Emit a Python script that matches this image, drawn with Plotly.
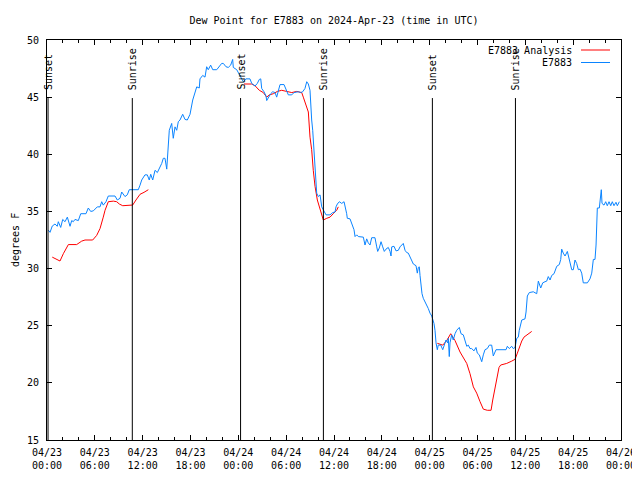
import pandas as pd
import plotly.graph_objects as go

BASE = pd.Timestamp("2024-04-23 00:00")

# ---- E7883 observations (hours since 2024-04-23 00:00 UTC, deg F) ----
obs_hours = [
    0.16, 0.38, 0.66, 1.00, 1.29, 1.42, 1.72, 1.97, 2.26, 2.55, 2.89, 3.10, 3.30, 3.51, 3.93,
    4.23, 4.89, 5.18, 5.48, 5.81, 6.31, 6.65, 6.86, 7.06, 7.40, 7.69, 8.53, 8.82, 9.16, 9.37,
    9.78, 10.07, 10.32, 11.45, 11.67, 11.88, 12.29, 12.58, 12.83, 13.01, 13.26, 13.55, 13.84,
    14.09, 14.39, 14.59, 14.80, 15.02, 15.22, 15.34, 15.64, 15.84, 16.06, 16.27, 16.47, 16.68,
    17.02, 17.31, 17.60, 17.94, 18.28, 18.56, 18.78, 19.10, 19.19, 19.53, 19.82, 20.03, 20.23,
    20.53, 20.79, 21.29, 21.58, 21.91, 22.12, 22.45, 22.74, 23.04, 23.29, 23.37, 23.80,
    24.62, 24.96, 25.46, 25.68, 26.09, 26.38, 26.63, 26.81, 26.93, 27.22, 27.47, 27.56, 27.76,
    28.06, 28.31, 28.60, 28.81, 29.01, 29.23, 29.73, 29.98, 30.27, 30.70, 30.98, 31.52, 31.82,
    32.07, 32.36, 32.58, 32.78, 32.99, 33.08, 33.20, 33.33, 33.49, 33.62, 33.74, 33.83, 34.03,
    34.25, 34.46, 34.66, 35.00, 35.50,
    35.84, 36.13, 36.25, 36.42, 36.67, 36.97, 37.26, 37.59, 37.67, 38.01, 38.22, 38.42, 38.51,
    38.64, 38.85, 39.05, 39.68, 39.89, 40.10, 40.30, 40.52, 40.73, 41.14, 41.36, 41.48, 41.68,
    41.90, 42.11, 42.31, 42.52, 42.81, 43.03, 43.15, 43.24, 43.53, 43.78, 44.07, 44.28, 44.69,
    44.91, 45.12, 45.32, 45.53, 45.75, 45.95, 46.29, 46.45, 46.58, 46.70, 46.79, 46.88, 47.04,
    47.20, 47.42, 47.63, 47.83, 48.04, 48.26,
    48.54, 48.67, 48.80, 48.96, 49.08, 49.39, 49.64, 49.80, 50.05, 50.26, 50.34, 50.46, 50.55,
    50.76, 50.96, 51.18, 51.39, 51.72, 51.93, 52.22, 52.43, 52.65, 52.85, 53.06, 53.27, 53.56,
    53.81, 53.98, 54.23, 54.53, 54.73, 54.94, 55.23, 55.48, 55.78, 55.98, 56.32, 57.58, 57.74,
    57.99, 58.29, 58.49, 58.71, 58.92, 59.12, 59.24, 59.55, 59.96, 60.09, 60.25, 60.50, 61.00,
    61.43, 61.63, 61.93, 62.18, 62.47, 62.68, 62.88, 63.10, 63.31, 63.60, 63.94, 64.26, 64.44,
    64.56, 64.76, 64.98, 65.27, 65.52, 65.82, 66.02, 66.23, 66.44, 66.65, 66.86, 67.07, 67.27,
    67.78, 68.11, 68.33, 68.53, 68.74, 68.87, 68.95, 69.03, 69.28, 69.37, 69.53, 69.62, 69.87,
    70.08, 70.28, 70.50, 70.71, 70.91, 71.12, 71.37, 71.54, 71.79,
]
obs_values = [
    33.37, 33.17, 33.72, 33.9, 33.7, 34.1, 33.6, 34.3, 34.1, 34.5, 33.7, 34.2, 34.1, 34.3, 34.2,
    34.8, 34.8, 35.3, 35.0, 35.05, 35.4, 35.4, 35.85, 35.55, 35.85, 36.35, 36.35, 36.0, 36.15, 36.7,
    36.3, 36.45, 36.9, 36.9, 37.3, 37.75, 38.2, 38.2, 37.75, 38.25, 37.75, 38.6, 38.4,
    38.75, 39.2, 39.65, 39.65, 38.7, 40.66, 42.1, 42.7, 41.4, 42.4, 42.1, 42.85, 43.0,
    43.5, 43.05, 43.0, 43.5, 44.75, 45.3, 45.9, 45.8, 46.6, 46.9, 46.75, 47.66, 47.4,
    47.8, 47.4, 47.4, 47.7, 47.95, 47.95, 47.66, 47.6, 47.8, 48.3, 47.6, 47.4,
    46.35, 46.6, 46.6, 46.2, 45.97, 46.2, 46.55, 46.6, 45.76, 45.47, 45.1, 44.7, 45.0,
    45.3, 45.47, 45.4, 45.0, 45.47, 46.1, 46.1, 45.6, 45.2, 45.2, 45.4, 45.47, 45.4,
    45.47, 45.76, 46.35, 46.15, 45.6, 44.2, 43.0, 42.1, 40.4, 39.2, 38.0, 36.6, 36.3,
    36.45, 35.4, 35.1, 34.7, 34.7,
    34.9, 34.95, 35.4, 35.65, 35.85, 35.7, 35.85, 34.8, 34.4, 34.35, 33.95, 33.7, 33.4,
    32.8, 32.95, 32.8, 32.75, 32.06, 32.6, 32.25, 32.06, 32.7, 32.7, 31.9, 31.5, 31.8,
    32.35, 31.9, 31.5, 31.7, 31.85, 31.5, 31.1, 31.9, 31.95, 31.55, 31.6, 31.9, 32.2,
    31.6, 31.4, 31.35, 31.05, 30.75, 30.4, 30.25, 29.6, 30.1, 30.15, 29.4, 28.6, 27.8,
    27.4, 27.1, 26.7, 26.5, 26.1, 25.85,
    25.2, 24.6, 23.5, 22.9, 23.3, 23.3, 22.9, 23.3, 23.75, 23.5, 23.9, 22.3, 23.5,
    24.2, 23.75, 24.3, 24.6, 24.85, 24.3, 24.2, 23.75, 23.2, 23.3, 23.0, 23.0, 22.8,
    23.1, 22.6, 22.45, 21.85, 22.45, 22.9, 23.0, 23.3, 23.3, 22.35, 22.9, 22.9, 23.2,
    23.0, 23.2, 23.0, 23.1, 23.9, 24.0, 24.6, 25.5, 25.6, 26.2, 27.6, 27.9, 27.97,
    27.8, 28.9, 28.3, 28.75, 28.85, 28.9, 29.3, 29.0, 29.4, 29.55, 30.2, 30.35, 30.8,
    31.7, 31.35, 31.1, 31.5, 30.65, 29.9, 29.9, 30.75, 30.45, 29.9, 29.95, 29.6, 28.75,
    28.75, 29.1, 29.6, 30.8, 30.8, 32.06, 33.4, 35.3, 35.3, 36.15, 36.9, 35.7, 35.55,
    35.85, 35.5, 35.85, 35.5, 35.85, 35.5, 35.8, 35.5, 35.85,
]

# ---- E7883 Analysis (three 12-hour segments) ----
ana1_hours = [0.66, 1.21, 1.63, 2.05, 2.38, 2.68, 3.72, 4.35, 4.77, 5.73, 6.23, 6.65, 7.06, 7.28,
              7.69, 8.32, 8.74, 9.07, 9.50, 10.07, 10.75, 11.16, 11.67, 12.17, 12.71]
ana1_values = [31.0, 30.8, 30.66, 31.3, 31.8, 32.1, 32.1, 32.4, 32.5, 32.5, 32.9, 33.5, 34.5, 35.1,
               35.85, 35.9, 35.85, 35.65, 35.5, 35.5, 35.56, 36.0, 36.5, 36.67, 36.9]
ana2_hours = [24.71, 25.68, 26.09, 26.63, 27.13, 27.56, 27.89, 28.39, 28.89, 29.44, 30.07, 30.70,
              31.32, 31.95, 32.15, 32.49, 32.78, 32.99, 33.20, 33.40, 33.62, 33.91, 34.25, 34.46,
              34.66, 35.09, 35.50, 35.91, 36.34, 36.54]
ana2_values = [46.15, 46.15, 46.0, 45.6, 45.4, 45.0, 45.2, 45.3, 45.5, 45.6, 45.5, 45.4,
               45.5, 45.4, 45.0, 44.3, 43.7, 41.5, 40.4, 38.6, 37.2, 36.0, 35.1, 34.7,
               34.25, 34.4, 34.5, 34.8, 35.1, 35.4]
ana3_hours = [48.96, 49.64, 50.14, 50.64, 51.18, 51.81, 52.65, 53.06, 53.48, 53.90, 54.32, 54.73,
              55.23, 55.70, 55.91, 56.32, 56.70, 56.91, 57.66, 58.29, 58.71, 59.00, 59.24, 59.55,
              59.83, 60.37, 60.80]
ana3_values = [23.46, 23.3, 23.7, 24.3, 23.7, 22.7, 21.7, 20.8, 19.65, 19.1, 18.35, 17.7,
               17.6, 17.6, 18.5, 19.96, 21.35, 21.56, 21.7, 21.9, 22.06, 22.6, 23.1, 23.66,
               24.0, 24.25, 24.5]

# ---- Sun events (hours since start) ----
sun_hours = [0.13, 10.70, 24.28, 34.67, 48.34, 58.76]
sun_labels = ["Sunset", "Sunrise", "Sunset", "Sunrise", "Sunset", "Sunrise"]

Y_MIN, Y_MAX = 15, 50
LINE_TOP = 44.92
LABEL_BOTTOM = 45.45

# page body has an ~8px margin; figure geometry compensates
W, H = 640, 472
ML, MT = 39, 32
PW, PH = 574, 400
MR = W - ML - PW
MB = H - MT - PH


def to_time(hours):
    return [BASE + pd.Timedelta(hours=h) for h in hours]


ana_x, ana_y = [], []
for hs, vs in [(ana1_hours, ana1_values), (ana2_hours, ana2_values), (ana3_hours, ana3_values)]:
    if ana_x:
        ana_x.append(None)
        ana_y.append(None)
    ana_x += to_time(hs)
    ana_y += vs

FONT = "DejaVu Sans Mono"
RED = "#ff0000"
BLUE = "#0a84ff"

fig = go.Figure()
fig.add_trace(go.Scatter(x=ana_x, y=ana_y, mode="lines", name="E7883 Analysis",
                         line=dict(color=RED, width=1), connectgaps=False))
fig.add_trace(go.Scatter(x=to_time(obs_hours), y=obs_values, mode="lines", name="E7883",
                         line=dict(color=BLUE, width=1)))

shapes = []
annotations = []
for h, lab in zip(sun_hours, sun_labels):
    t = BASE + pd.Timedelta(hours=h)
    shapes.append(dict(type="line", xref="x", yref="y", x0=t, x1=t, y0=Y_MIN, y1=LINE_TOP,
                       line=dict(color="black", width=1)))
    annotations.append(dict(x=t, y=LABEL_BOTTOM, xref="x", yref="y", text=lab, textangle=-90,
                            showarrow=False, xanchor="center", yanchor="bottom",
                            font=dict(family=FONT, size=10, color="black")))

# legend drawn gnuplot-style (text then line sample), positions relative to plot area
for i, (name, col) in enumerate([("E7883 Analysis", RED), ("E7883", BLUE)]):
    ypap = 1 - (10 + 12.5 * i) / PH
    annotations.append(dict(x=527 / PW, y=ypap, xref="paper", yref="paper", text=name,
                            showarrow=False, xanchor="right", yanchor="middle",
                            font=dict(family=FONT, size=10, color="black")))
    shapes.append(dict(type="line", xref="paper", yref="paper",
                       x0=534 / PW, x1=563 / PW, y0=ypap, y1=ypap,
                       line=dict(color=col, width=1)))

annotations.append(dict(x=-32 / PW, y=0.5, xref="paper", yref="paper", text="degrees F",
                        textangle=-90, showarrow=False, xanchor="center", yanchor="middle",
                        font=dict(family=FONT, size=10, color="black")))

fig.update_layout(
    width=W, height=H,
    margin=dict(l=ML, r=MR, t=MT, b=MB, pad=0, autoexpand=False),
    paper_bgcolor="white", plot_bgcolor="white",
    showlegend=False,
    font=dict(family=FONT, size=10, color="black"),
    title=dict(text="Dew Point for E7883 on 2024-Apr-23 (time in UTC)", x=0.5, xref="paper",
               y=1 - 12 / H, yref="container", xanchor="center", yanchor="middle",
               font=dict(family=FONT, size=10, color="black")),
    shapes=shapes, annotations=annotations,
)
fig.update_xaxes(
    type="date", automargin=False,
    range=[BASE, BASE + pd.Timedelta(hours=72)],
    tick0=BASE, dtick=6 * 3600 * 1000, tickformat="%m/%d<br>%H:%M",
    ticks="inside", ticklen=5, tickcolor="black", mirror="allticks",
    ticklabelstandoff=3,
    showline=True, linecolor="black", linewidth=1, showgrid=False, zeroline=False,
    minor=dict(dtick=2 * 3600 * 1000, ticks="inside", ticklen=3, tickcolor="black", showgrid=False),
    tickfont=dict(family=FONT, size=10, color="black"),
)
fig.update_yaxes(
    automargin=False,
    range=[Y_MIN, Y_MAX], dtick=5, tick0=15,
    ticks="inside", ticklen=5, tickcolor="black", mirror="allticks",
    ticklabelstandoff=5,
    showline=True, linecolor="black", linewidth=1, showgrid=False, zeroline=False,
    tickfont=dict(family=FONT, size=10, color="black"),
)

fig.write_html("out.html")
